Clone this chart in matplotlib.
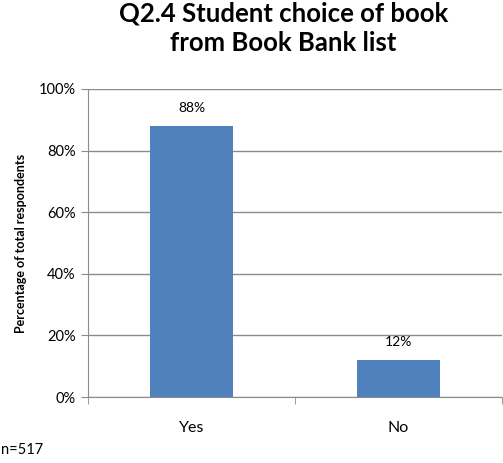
import matplotlib.pyplot as plt
from matplotlib.ticker import PercentFormatter, FixedLocator

categories = ['Yes', 'No']
shares = [88, 12]
yticks = [0, 20, 40, 60, 80, 100]

plt.rcParams['font.family'] = ['Lato', 'DejaVu Sans']

fig = plt.figure(figsize=(5.03, 4.63), dpi=100)
ax = fig.add_axes([0.175, 0.1425, 0.823, 0.6655])

x = range(len(categories))
bars = ax.bar(x, shares, width=0.4, color='#4F81BD', zorder=3)
for rect, v in zip(bars, shares):
    ax.text(rect.get_x() + rect.get_width() / 2, v + 4, f'{v}%',
            ha='center', va='bottom', fontsize=10)

ax.set_xlim(-0.5, 1.5)
ax.set_ylim(0, 100)
ax.set_yticks(yticks)
ax.yaxis.set_major_formatter(PercentFormatter(decimals=0))
ax.grid(axis='y', color='#8c8c8c', linewidth=1, zorder=0)

ax.set_xticks(list(x))
ax.set_xticklabels(categories, fontsize=11.5)
ax.xaxis.set_minor_locator(FixedLocator([-0.5, 0.5, 1.5]))
ax.tick_params(axis='x', which='major', length=0, pad=17)
ax.tick_params(axis='x', which='minor', length=5, color='#8c8c8c')
ax.tick_params(axis='y', length=5, color='#8c8c8c', labelsize=10.5, pad=4)

for side in ['top', 'right']:
    ax.spines[side].set_visible(False)
for side in ['left', 'bottom']:
    ax.spines[side].set_color('#8c8c8c')

ax.set_ylabel('Percentage of total respondents', fontsize=9, fontweight='bold', labelpad=8)

fig.text(0.563, 0.997, 'Q2.4 Student choice of book\nfrom Book Bank list',
         ha='center', va='top', fontsize=18.5, fontweight='bold', linespacing=1.3)
fig.text(0.002, 0.02, 'n=517', fontsize=10.5)

fig.savefig('out.png', dpi=100)
